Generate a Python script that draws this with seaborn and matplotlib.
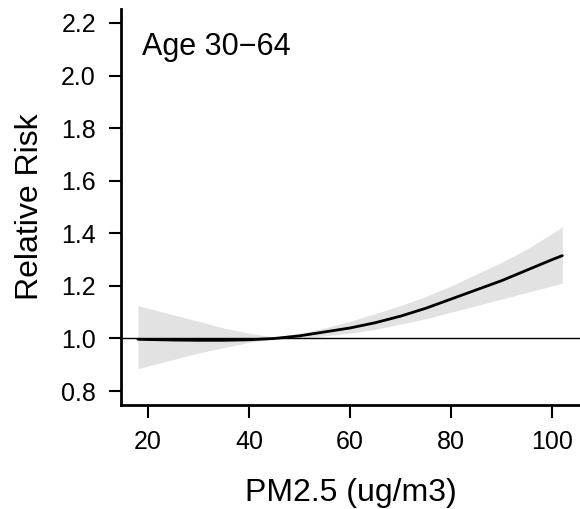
import numpy as np
import pandas as pd
import matplotlib
matplotlib.use("Agg")
import matplotlib.pyplot as plt
import seaborn as sns

# exposure-response curve
pm25 = [18, 20, 25, 30, 35, 40, 45, 50, 55, 60, 65, 70, 75, 80, 85, 90, 95, 100, 102]
rr = [0.997, 0.996, 0.994, 0.993, 0.993, 0.995, 1.0, 1.01, 1.025, 1.04, 1.06,
      1.085, 1.115, 1.15, 1.185, 1.22, 1.26, 1.30, 1.315]
rr_low = [0.885, 0.895, 0.92, 0.945, 0.965, 0.985, 0.998, 1.0, 1.01, 1.02, 1.035,
          1.055, 1.075, 1.10, 1.125, 1.15, 1.175, 1.20, 1.21]
rr_high = [1.125, 1.115, 1.09, 1.065, 1.04, 1.02, 1.005, 1.02, 1.04, 1.065, 1.095,
           1.125, 1.16, 1.20, 1.245, 1.29, 1.34, 1.40, 1.425]

x_ticks = [20, 40, 60, 80, 100]
y_ticks = [0.8, 1.0, 1.2, 1.4, 1.6, 1.8, 2.0, 2.2]
panel_label = "Age 30\u221264"

sns.set_theme(style="ticks")
plt.rcParams['font.family'] = ['Liberation Sans', 'DejaVu Sans']
plt.rcParams['text.color'] = 'black'
plt.rcParams['axes.labelcolor'] = 'black'

df = pd.DataFrame({'pm25': pm25, 'rr': rr, 'low': rr_low, 'high': rr_high})

fig = plt.figure(figsize=(5.8, 5.09), dpi=100)
ax = fig.add_axes([121 / 580, 104 / 509, 459 / 580, 396 / 509])

ax.fill_between(df['pm25'], df['low'], df['high'], color='#e2e2e2', lw=0)
ax.axhline(1.0, color='black', lw=1.0)
sns.lineplot(data=df, x='pm25', y='rr', color='black', linewidth=2, ax=ax)

ax.set_xlim(14.65, 105.5)
ax.set_ylim(0.747, 2.253)
ax.set_xticks(x_ticks)
ax.set_yticks(y_ticks)
ax.set_yticklabels([f'{v:.1f}' for v in y_ticks])

sns.despine(ax=ax)
for side in ['left', 'bottom']:
    ax.spines[side].set_linewidth(2)
    ax.spines[side].set_color('black')
ax.tick_params(axis='both', direction='out', length=9, width=1.5, pad=9,
               labelsize=18, colors='black')

ax.set_xlabel('PM2.5 (ug/m3)', fontsize=23)
ax.set_ylabel('Relative Risk', fontsize=23)
ax.xaxis.set_label_coords(0.5, -0.184)
ax.yaxis.set_label_coords(-0.166, 0.5)

ax.text(0.045, 0.884, panel_label, transform=ax.transAxes, fontsize=22,
        ha='left', va='baseline')

fig.savefig('out.png', dpi=100)
